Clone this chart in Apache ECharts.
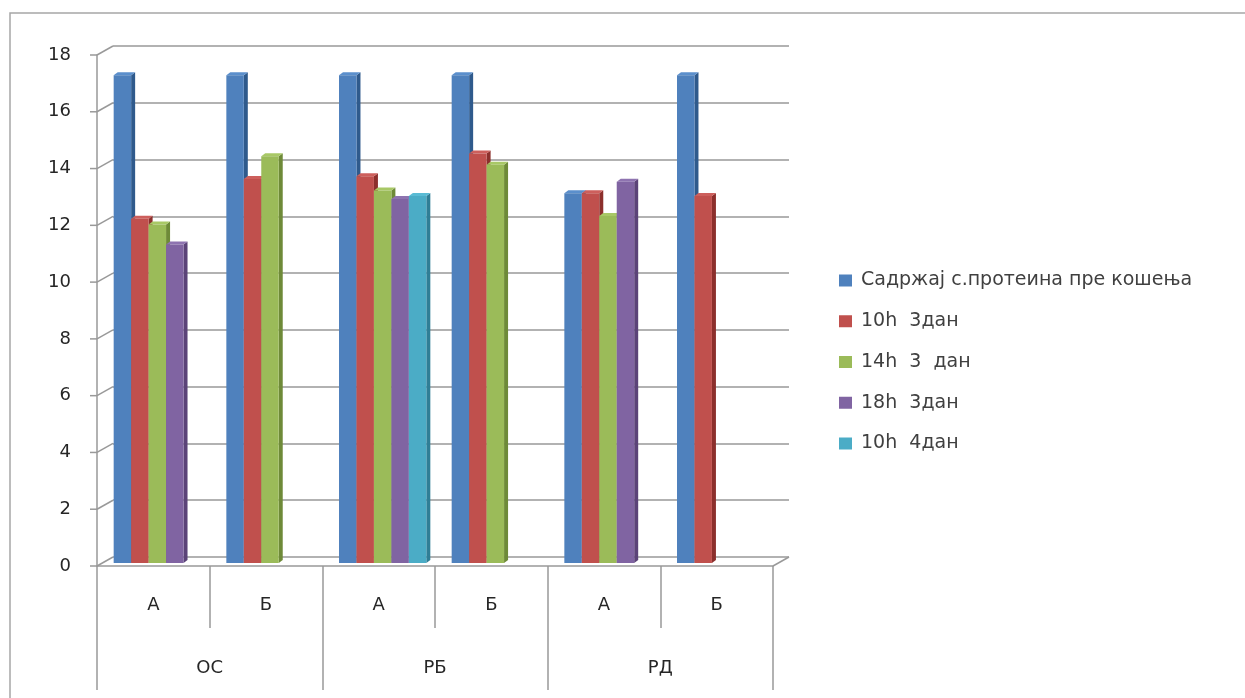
<!DOCTYPE html>
<html>
<head>
<meta charset="utf-8">
<script src="https://cdn.jsdelivr.net/npm/echarts@6/dist/echarts.min.js"></script>
<style>
  html, body { margin: 0; padding: 0; background: #fff; }
  #chart { width: 1245px; height: 698px; }
</style>
</head>
<body>
<div id="chart"></div>
<script>
// Inner (А/Б) and outer (ОС/РБ/РД) category levels
const categories = ['А', 'Б', 'А', 'Б', 'А', 'Б'];
const groups = ['ОС', 'РБ', 'РД'];

// Series names and values, one entry per inner category (null = no bar)
const seriesNames = ['Садржај с.протеина пре кошења', '10h  3дан', '14h  3  дан', '18h  3дан', '10h  4дан'];
const proteinBefore = [17.15, 17.15, 17.15, 17.15, 13.0, 17.15];
const h10day3 = [12.1, 13.5, 13.6, 14.4, 13.0, 12.9];
const h14day3 = [11.9, 14.3, 13.1, 14.0, 12.2, null];
const h18day3 = [11.2, null, 12.8, null, 13.4, null];
const h10day4 = [null, null, 12.9, null, null, null];

// Value-axis tick labels
const yTicks = [0, 2, 4, 6, 8, 10, 12, 14, 16, 18];

const seriesValues = [proteinBefore, h10day3, h14day3, h18day3, h10day4];
const faceColors = ['#4F81BD', '#C0504D', '#9BBB59', '#8064A2', '#4BACC6'];
const sideColors = ['#2F5A8C', '#8C2F2C', '#6E8A38', '#5B4378', '#2F7E96'];
const topColors = ['#5B8FCC', '#CD5F5C', '#A8C866', '#8E73B0', '#5ABBD4'];

const FONT = 'DejaVu Sans';
const DEPTH_X = 16, DEPTH_Y = 9;      // floor / wall perspective offset
const BAR_DX = 4, BAR_DY = 3;         // bar side/top face offset
const SLOTS = 5;
const BAR_FRACTION = 0.155;           // share of a category band per bar

function barRenderer(slot) {
  return function (params, api) {
    const idx = api.value(0);
    const val = api.value(1);
    const top = api.coord([idx, val]);
    const base = api.coord([idx, 0]);
    const band = api.size([1, 0])[0];
    const w = band * BAR_FRACTION;
    const x0 = top[0] - (SLOTS / 2) * w + slot * w;
    const x1 = x0 + w;
    const yt = top[1], yb = base[1];
    return {
      type: 'group',
      children: [
        { type: 'polygon', shape: { points: [[x1, yt], [x1 + BAR_DX, yt - BAR_DY], [x1 + BAR_DX, yb - BAR_DY], [x1, yb]] },
          style: { fill: sideColors[slot] } },
        { type: 'polygon', shape: { points: [[x0, yt], [x0 + BAR_DX, yt - BAR_DY], [x1 + BAR_DX, yt - BAR_DY], [x1, yt]] },
          style: { fill: topColors[slot] } },
        { type: 'rect', shape: { x: x0, y: yt, width: w, height: yb - yt },
          style: { fill: faceColors[slot] } }
      ]
    };
  };
}

const barSeries = seriesNames.map(function (name, i) {
  const data = [];
  seriesValues[i].forEach(function (v, k) { if (v !== null) data.push([k, v]); });
  return {
    name: name,
    type: 'custom',
    xAxisIndex: 3,
    yAxisIndex: 2,
    z: 10 + i,
    itemStyle: { color: faceColors[i] },
    renderItem: barRenderer(i),
    data: data
  };
});

// Perspective connectors from the front value axis to the back wall
const wallSeries = {
  type: 'custom',
  xAxisIndex: 0,
  yAxisIndex: 0,
  silent: true,
  z: 3,
  renderItem: function (params, api) {
    const v = api.value(1);
    const y = api.coord([0, v])[1];
    const cs = params.coordSys;
    const x = cs.x;
    const lines = [
      { type: 'line', shape: { x1: x - 7, y1: y, x2: x, y2: y }, style: { stroke: '#999', lineWidth: 1.5 } },
      { type: 'line', shape: { x1: x, y1: y, x2: x + DEPTH_X, y2: y - DEPTH_Y }, style: { stroke: '#999', lineWidth: 1.5 } }
    ];
    if (v === 0) {
      const xr = cs.x + cs.width;
      lines.push({ type: 'line', shape: { x1: xr, y1: y, x2: xr + DEPTH_X, y2: y - DEPTH_Y }, style: { stroke: '#999', lineWidth: 1.5 } });
    }
    return { type: 'group', children: lines };
  },
  data: yTicks.map(function (v) { return [0, v]; })
};

const chart = echarts.init(document.getElementById('chart'));
chart.setOption({
  animation: false,
  textStyle: { fontFamily: FONT },
  graphic: [{
    type: 'rect',
    shape: { x: 10, y: 13, width: 1400, height: 900 },
    style: { fill: 'none', stroke: '#a6a6a6', lineWidth: 1.5 },
    z: -10
  }],
  legend: {
    orient: 'vertical',
    left: 839,
    top: 270,
    padding: 0,
    itemWidth: 13,
    itemHeight: 12,
    itemGap: 19.75,
    icon: 'rect',
    textStyle: { fontFamily: FONT, fontSize: 19, color: '#404040', lineHeight: 21, padding: [0, 0, 0, 4] },
    data: seriesNames
  },
  grid: [
    { left: 97, top: 55, width: 676, height: 511 },
    { left: 113, top: 46, width: 676, height: 511 },
    { left: 101, top: 51, width: 676, height: 512 }
  ],
  xAxis: [
    {
      type: 'category', gridIndex: 0, data: categories, position: 'bottom',
      axisLine: { show: true, lineStyle: { color: '#999', width: 1.5 } },
      axisTick: { show: true, interval: 0, length: 62, lineStyle: { color: '#999', width: 1.5 } },
      axisLabel: { interval: 0, margin: 30, fontSize: 18, color: '#262626', fontFamily: FONT },
      splitLine: { show: false }
    },
    {
      type: 'category', gridIndex: 0, data: groups, position: 'bottom',
      axisLine: { show: false },
      axisTick: { show: true, interval: 0, length: 124, lineStyle: { color: '#999', width: 1.5 } },
      axisLabel: { interval: 0, margin: 93, fontSize: 18, color: '#262626', fontFamily: FONT },
      splitLine: { show: false }
    },
    {
      type: 'category', gridIndex: 1, data: categories, show: false
    },
    {
      type: 'category', gridIndex: 2, data: categories, show: false
    }
  ],
  yAxis: [
    {
      type: 'value', gridIndex: 0, min: 0, max: 18, interval: 2,
      axisLine: { show: true, lineStyle: { color: '#999', width: 1.5 } },
      axisTick: { show: false },
      axisLabel: { margin: 26, fontSize: 18, color: '#262626', fontFamily: FONT },
      splitLine: { show: false }
    },
    {
      type: 'value', gridIndex: 1, min: 0, max: 18, interval: 2,
      axisLine: { show: false }, axisTick: { show: false }, axisLabel: { show: false },
      splitLine: { show: true, lineStyle: { color: '#999', width: 1.5 } }
    },
    {
      type: 'value', gridIndex: 2, min: 0, max: 18, interval: 2, show: false,
      splitLine: { show: false }
    }
  ],
  series: [wallSeries].concat(barSeries)
});
</script>
</body>
</html>
